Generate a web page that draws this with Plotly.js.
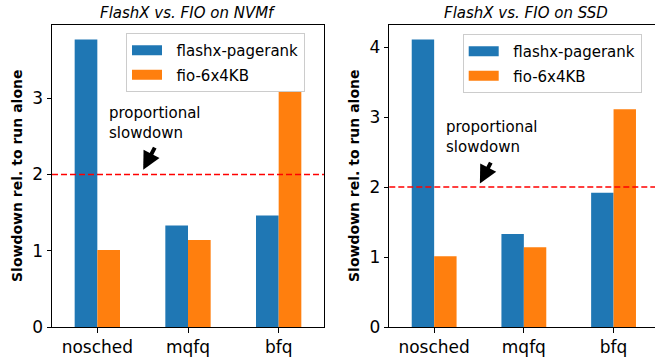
<!DOCTYPE html>
<html>
<head>
<meta charset="utf-8">
<script src="https://cdn.plot.ly/plotly-3.0.1.min.js"></script>
<style>html,body{margin:0;padding:0;background:#fff;}#chart{width:655px;height:362px;}</style>
</head>
<body>
<div id="chart"></div>
<script>
// ---- data ----
const categories = ['nosched', 'mqfq', 'bfq'];
const nvmfFlashx = [3.77, 1.33, 1.46];
const nvmfFio = [1.01, 1.14, 3.09];
const ssdFlashx = [4.11, 1.33, 1.92];
const ssdFio = [1.01, 1.14, 3.11];
const seriesNames = ['flashx-pagerank', 'fio-6x4KB'];
const panelTitles = ['FlashX vs. FIO on NVMf', 'FlashX vs. FIO on SSD'];
const yLabel = 'Slowdown rel. to run alone';
const proportionalLevel = 2;
const noteText = 'proportional<br>slowdown';

const BLUE = '#1f77b4', ORANGE = '#ff7f0e';
const FONT = 'DejaVu Sans, sans-serif';
const PAD = '\u00a0\u00a0';

function bar(y, name, color, xa, ya) {
  return {type: 'bar', x: categories, y: y, name: name, xaxis: xa, yaxis: ya,
    marker: {color: color}, showlegend: false, hoverinfo: 'skip'};
}
function legendItem(name, color, xa, ya, leg, grp) {
  return {type: 'scatter', mode: 'lines', x: [null], y: [null], name: PAD + name,
    xaxis: xa, yaxis: ya, legend: leg, legendgroup: grp,
    line: {color: color, width: 13}};
}

const data = [
  bar(nvmfFlashx, seriesNames[0], BLUE, 'x', 'y'),
  bar(nvmfFio, seriesNames[1], ORANGE, 'x', 'y'),
  bar(ssdFlashx, seriesNames[0], BLUE, 'x2', 'y2'),
  bar(ssdFio, seriesNames[1], ORANGE, 'x2', 'y2'),
  legendItem(seriesNames[0], BLUE, 'x', 'y', 'legend', 'a'),
  legendItem(seriesNames[1], ORANGE, 'x', 'y', 'legend', 'b'),
  legendItem(seriesNames[0], BLUE, 'x2', 'y2', 'legend2', 'a'),
  legendItem(seriesNames[1], ORANGE, 'x2', 'y2', 'legend2', 'b')
];

const yMax1 = Math.max(...nvmfFlashx, ...nvmfFio) * 1.05;
const yMax2 = Math.max(...ssdFlashx, ...ssdFio) * 1.05;

const axisCommon = {
  showline: true, linecolor: 'black', linewidth: 1, ticks: 'outside',
  ticklen: 4.5, tickwidth: 1, tickcolor: 'black', showgrid: false, zeroline: false,
  tickfont: {family: FONT, size: 17, color: 'black'}, fixedrange: true
};

const legendCommon = {
  xanchor: 'left', yanchor: 'top', bordercolor: '#cccccc', borderwidth: 1,
  bgcolor: 'rgba(255,255,255,0.8)', font: {family: FONT, size: 15, color: 'black'},
  tracegroupgap: 2
};

function arrow(xa, ya, x, y, ax, ay) {
  return {xref: xa, yref: ya, axref: xa, ayref: ya, x: x, y: y, ax: ax, ay: ay,
    text: '', showarrow: true, arrowhead: 2, arrowsize: 0.9, arrowwidth: 4,
    arrowcolor: 'black', standoff: 0, startstandoff: 0};
}

const layout = {
  width: 655, height: 362,
  margin: {l: 0, r: 0, t: 25, b: 35},
  paper_bgcolor: 'white', plot_bgcolor: 'white',
  font: {family: FONT, color: 'black'},
  barmode: 'group', bargap: 0.5, bargroupgap: 0,
  xaxis: Object.assign({}, axisCommon, {domain: [52/655, 324/655], range: [-0.5, 2.5], mirror: true, anchor: 'y'}),
  yaxis: Object.assign({}, axisCommon, {range: [0, yMax1], dtick: 1, mirror: true, anchor: 'x'}),
  xaxis2: Object.assign({}, axisCommon, {domain: [389.3/655, 1], range: [-0.5, 2.462], mirror: true, anchor: 'y2'}),
  yaxis2: Object.assign({}, axisCommon, {range: [0, yMax2], dtick: 1, anchor: 'x2'}),
  legend: Object.assign({}, legendCommon, {x: 126/655, y: 0.9735}),
  legend2: Object.assign({}, legendCommon, {x: 462.7/655, y: 0.97}),
  shapes: [
    {type: 'line', xref: 'x domain', yref: 'y', x0: 0, x1: 1, y0: proportionalLevel, y1: proportionalLevel,
     line: {color: 'red', width: 1.5, dash: '6px,3px'}},
    {type: 'line', xref: 'x2 domain', yref: 'y2', x0: 0, x1: 1, y0: proportionalLevel, y1: proportionalLevel,
     line: {color: 'red', width: 1.5, dash: '6px,3px'}}
  ],
  annotations: [
    {xref: 'x domain', yref: 'paper', x: 0.5, y: 1, yanchor: 'bottom', yshift: 1, showarrow: false,
     text: '<i>' + panelTitles[0] + '</i>', font: {family: FONT, size: 15, color: 'black'}},
    {xref: 'x2 domain', yref: 'paper', x: 0.513, y: 1, yanchor: 'bottom', yshift: 1, showarrow: false,
     text: '<i>' + panelTitles[1] + '</i>', font: {family: FONT, size: 15, color: 'black'}},
    {xref: 'paper', yref: 'paper', x: 17/655, y: 0.5, xanchor: 'center', yanchor: 'middle', textangle: -90,
     showarrow: false, text: '<b>' + yLabel + '</b>', font: {family: FONT, size: 14, color: 'black'}},
    {xref: 'paper', yref: 'paper', x: 354/655, y: 0.5, xanchor: 'center', yanchor: 'middle', textangle: -90,
     showarrow: false, text: '<b>' + yLabel + '</b>', font: {family: FONT, size: 14, color: 'black'}},
    {xref: 'x', yref: 'y', x: 0.11, y: 2.68, xanchor: 'left', yanchor: 'middle', align: 'left', showarrow: false,
     text: noteText, font: {family: FONT, size: 15, color: 'black'}},
    {xref: 'x2', yref: 'y2', x: 0.108, y: 2.71, xanchor: 'left', yanchor: 'middle', align: 'left', showarrow: false,
     text: noteText, font: {family: FONT, size: 15, color: 'black'}},
    arrow('x', 'y', 0.506, 2.06, 0.642, 2.37),
    arrow('x2', 'y2', 0.51, 2.05, 0.64, 2.37)
  ]
};

Plotly.newPlot('chart', data, layout, {displayModeBar: false, staticPlot: true});
</script>
</body>
</html>
